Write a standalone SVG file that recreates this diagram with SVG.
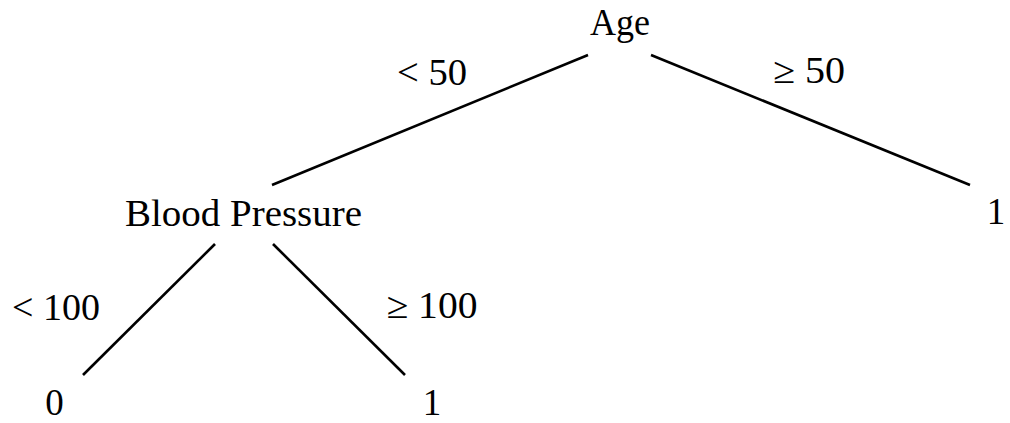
<svg xmlns="http://www.w3.org/2000/svg" width="1010" height="423" viewBox="0 0 1010 423">
<style>
text{font-family:"Liberation Serif","Times New Roman",serif;font-size:37px;fill:#000;text-anchor:middle}
.e line{stroke:#000;stroke-width:2.6;stroke-linecap:butt}
</style>
<rect width="1010" height="423" fill="#fff"/>
<g id="connectors" class="e">
<line x1="588" y1="55" x2="272" y2="185"/>
<line x1="651" y1="55" x2="970" y2="185"/>
<line x1="215" y1="244" x2="83" y2="375"/>
<line x1="273" y1="244" x2="405" y2="375"/>
</g>
<g id="labels">
<text x="432" y="85" textLength="70" lengthAdjust="spacingAndGlyphs">&lt; 50</text>
<text x="809" y="83" textLength="72" lengthAdjust="spacingAndGlyphs">≥ 50</text>
<text x="56" y="320" textLength="88" lengthAdjust="spacingAndGlyphs">&lt; 100</text>
<text x="432" y="318" textLength="91" lengthAdjust="spacingAndGlyphs">≥ 100</text>
</g>
<g id="age"><text x="620" y="35" textLength="60" lengthAdjust="spacingAndGlyphs">Age</text></g>
<g id="bp"><text x="243.5" y="226" textLength="237" lengthAdjust="spacingAndGlyphs">Blood Pressure</text></g>
<g id="leaf0"><text x="54.5" y="415">0</text></g>
<g id="leaf1a"><text x="432" y="415">1</text></g>
<g id="leaf1b"><text x="996" y="224">1</text></g>
</svg>
